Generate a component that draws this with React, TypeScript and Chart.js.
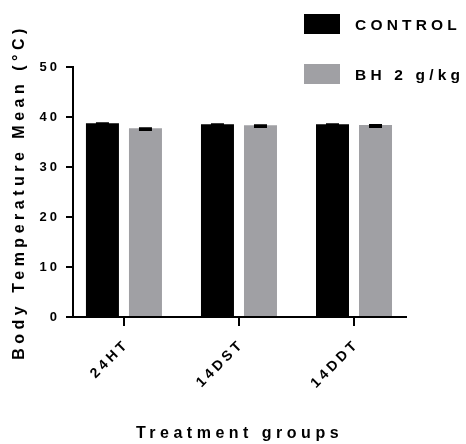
import React, { useEffect, useRef } from 'react';
import { Chart, registerables } from 'chart.js';

Chart.register(...registerables);

const categories = ['24HT', '14DST', '14DDT'];
const controlMean = [38.75, 38.55, 38.55];
const controlSem = [0.3, 0.3, 0.3];
const bhMean = [37.75, 38.35, 38.4];
const bhSem = [0.35, 0.35, 0.4];
const yTicks = [0, 10, 20, 30, 40, 50];
const seriesLabels = ['CONTROL', 'BH 2 g/kg'];
const seriesColors = ['#000000', '#a0a0a4'];

const FONT = '"Liberation Sans", Arial, Helvetica, sans-serif';

const spacingPlugin = {
  id: 'spacingPlugin',
  beforeDraw(chart: any) {
    Object.values(chart.scales).forEach((s: any) => {
      if (s.__patched) return;
      s.__patched = true;
      const dl = s.drawLabels.bind(s);
      const dt = s.drawTitle.bind(s);
      s.drawLabels = (area: any) => {
        const c = s.ctx;
        c.save();
        c.letterSpacing = s.axis === 'x' ? '3.5px' : '3px';
        dl(area);
        c.restore();
      };
      s.drawTitle = (area: any) => {
        const c = s.ctx;
        c.save();
        c.letterSpacing = '4.5px';
        dt(area);
        c.restore();
      };
    });
  },
};

const errorBarPlugin = {
  id: 'errorBarPlugin',
  afterDatasetsDraw(chart: any) {
    const ctx = chart.ctx;
    const yScale = chart.scales.y;
    chart.data.datasets.forEach((ds: any, di: number) => {
      const meta = chart.getDatasetMeta(di);
      meta.data.forEach((bar: any, i: number) => {
        const m = ds.data[i].y;
        const top = yScale.getPixelForValue(m);
        const bot = yScale.getPixelForValue(m - ds.sem[i]);
        ctx.save();
        ctx.strokeStyle = '#000';
        ctx.lineWidth = 2;
        ctx.beginPath();
        ctx.moveTo(bar.x, top);
        ctx.lineTo(bar.x, bot);
        ctx.moveTo(bar.x - 6.5, top);
        ctx.lineTo(bar.x + 6.5, top);
        ctx.moveTo(bar.x - 6.5, bot);
        ctx.lineTo(bar.x + 6.5, bot);
        ctx.stroke();
        ctx.restore();
      });
    });
  },
};

const legendPlugin = {
  id: 'customLegend',
  afterDraw(chart: any) {
    const ctx = chart.ctx;
    const area = chart.chartArea;
    const boxX = area.right - 102;
    const boxW = 36;
    const boxH = 20;
    const rowTop = [14, 64];
    ctx.save();
    ctx.font = `bold 15.5px ${FONT}`;
    ctx.letterSpacing = '4.2px';
    ctx.textBaseline = 'middle';
    ctx.textAlign = 'left';
    chart.data.datasets.forEach((ds: any, i: number) => {
      const y0 = rowTop[i];
      ctx.fillStyle = ds.backgroundColor;
      ctx.fillRect(boxX, y0, boxW, boxH);
      ctx.fillStyle = '#000';
      ctx.fillText(ds.label, boxX + boxW + 15, y0 + boxH / 2 + 2);
    });
    ctx.restore();
  },
};

export default function App() {
  const ref = useRef<HTMLCanvasElement | null>(null);

  useEffect(() => {
    if (!ref.current) return;
    const chart = new Chart(ref.current, {
      type: 'bar',
      data: {
        datasets: [
          {
            label: seriesLabels[0],
            data: controlMean.map((v, i) => ({ x: i, y: v })),
            backgroundColor: seriesColors[0],
            sem: controlSem,
          } as any,
          {
            label: seriesLabels[1],
            data: bhMean.map((v, i) => ({ x: i, y: v })),
            backgroundColor: seriesColors[1],
            sem: bhSem,
          } as any,
        ],
      },
      options: {
        responsive: false,
        animation: false,
        categoryPercentage: 0.748,
        barPercentage: 0.767,
        layout: { padding: { top: 67, right: 60, left: 0, bottom: 0 } },
        plugins: {
          legend: { display: false },
          tooltip: { enabled: false },
        },
        scales: {
          x: {
            type: 'linear',
            offset: false,
            min: -0.443,
            max: 2.452,
            afterBuildTicks: (s: any) => {
              s.ticks = categories.map((_, i) => ({ value: i }));
            },
            afterFit: (s: any) => {
              s.height = 127;
            },
            ticks: {
              callback: (v: any) => categories[v] ?? '',
              minRotation: 45,
              maxRotation: 45,
              autoSkip: false,
              color: '#000',
              padding: 10,
              labelOffset: 3,
              font: { family: FONT, size: 14, weight: 'bold' },
            },
            grid: {
              offset: false,
              drawOnChartArea: false,
              drawTicks: true,
              tickLength: 9,
              lineWidth: 2,
              color: '#000',
            },
            border: { display: true, color: '#000', width: 2 },
            title: {
              display: true,
              text: 'Treatment groups',
              color: '#000',
              font: { family: FONT, size: 16, weight: 'bold' },
              padding: { top: 0, bottom: 1 },
            },
          },
          y: {
            min: 0,
            max: 50,
            afterBuildTicks: (s: any) => {
              s.ticks = yTicks.map((v) => ({ value: v }));
            },
            afterFit: (s: any) => {
              s.width = 73;
            },
            ticks: {
              color: '#000',
              padding: 6,
              font: { family: FONT, size: 13, weight: 'bold' },
            },
            grid: {
              drawOnChartArea: false,
              drawTicks: true,
              tickLength: 7,
              lineWidth: 2,
              color: '#000',
            },
            border: { display: true, color: '#000', width: 2 },
            title: {
              display: true,
              text: 'Body Temperature Mean (°C)',
              color: '#000',
              font: { family: FONT, size: 16, weight: 'bold' },
              padding: { top: 10, bottom: 0 },
            },
          },
        },
      } as any,
      plugins: [spacingPlugin, errorBarPlugin, legendPlugin],
    });
    return () => chart.destroy();
  }, []);

  return (
    <div style={{ position: 'absolute', left: 0, top: 0, width: 466, height: 444 }}>
      <canvas ref={ref} width={466} height={444} style={{ display: 'block' }} />
    </div>
  );
}
